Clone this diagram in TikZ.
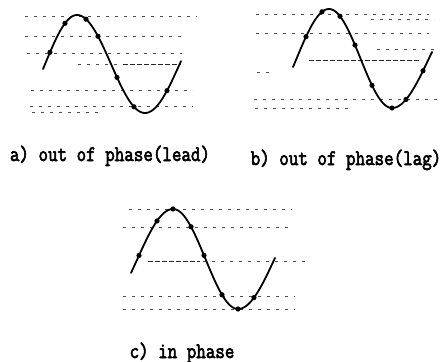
\documentclass[tikz,border=0pt]{standalone}
\usepackage{fontspec}
\usepackage{graphicx}
\newfontfamily\lblfont[FakeBold=3]{Latin Modern Mono}
\tikzset{
  declare function={
    wv(\xv,\cv,\av,\pv,\tv,\qa,\qb)=((\xv<\pv) ? (\cv-\av*cos((90/\qa)*(\xv-\pv))) : ((\xv<\tv) ? (\cv-\av*cos((180/(\tv-\pv))*(\xv-\pv))) : (\cv+\av*cos((90/\qb)*(\xv-\tv)))));
    wa(\x)=wv(\x,64,49,77,145,31.9,34.7);
    wb(\x)=wv(\x,58.5,49.5,329,392,32.4,36.9);
    wc(\x)=wv(\x,259,50,173,238,35.6,36.5);
  },
  wave/.style={line width=1.8pt, line cap=round, line join=round},
  gl/.style={line width=0.6pt, black!70, dash pattern=on 3pt off 6pt},
  gld/.style={line width=0.7pt, black!85, dash pattern=on 5pt off 2pt},
  pt/.style={fill=black},
  lbl/.style={font=\lblfont\fontsize{18.5}{20}\selectfont, inner sep=0pt, anchor=base}
}
\begin{document}
\begin{tikzpicture}[x=1pt,y=-1pt]
\useasboundingbox (0,0) rectangle (448,362);
% ---------- panel a ----------
\draw[gl] (25,16) -- (197,16);
\draw[gl] (25,36) -- (182,36);
\draw[gl] (27,53) -- (182,53);
\draw[gl] (78,64) -- (120,64);
\draw[gld] (123,64) -- (181,64);
\draw[gl] (31,90) -- (193,90);
\draw[gl] (30,106) -- (193,106);
\draw[gl] (32,112) -- (100,112);
\draw[wave] plot[domain=43:181, samples=120] (\x,{wa(\x)});
\foreach \p in {50,65,86,98,117,134,167}
  \fill[pt] (\p,{wa(\p)}) circle (2.6pt);
% ---------- panel b ----------
\draw[gl] (256,14) -- (429,14);
\draw[gl] (371,19) -- (434,19);
\draw[gl] (256,33) -- (429,33);
\draw[gl] (377,49) -- (434,49);
\draw[gld] (309,60) -- (421,60);
\draw[gl] (257,72) -- (271,72);
\draw[gl] (254,99) -- (437,99);
\draw[gl] (255,108) -- (349,108);
\draw[wave] plot[domain=293:432, samples=120] (\x,{wb(\x)});
\foreach \p in {306,322,340,355,372,392,406,423}
  \fill[pt] (\p,{wb(\p)}) circle (2.6pt);
% ---------- panel c ----------
\draw[gl] (129,209) -- (292,209);
\draw[gl] (123,227) -- (293,227);
\draw[gld] (148,261) -- (200,261);
\draw[gl] (203,261) -- (310,261);
\draw[gl] (123,296) -- (295,296);
\draw[gl] (123,309) -- (295,309);
\draw[wave] plot[domain=131:275, samples=120] (\x,{wc(\x)});
\foreach \p in {139,157,173,191,204,222,238,254}
  \fill[pt] (\p,{wc(\p)}) circle (2.6pt);
% ---------- labels ----------
\node[lbl] (la) at (110,161) {\scalebox{1}[1.2]{a) out of phase(lead)}};
\node[lbl] (lb) at (346,165) {\scalebox{1}[1.2]{b) out of phase(lag)}};
\node[lbl] (lc) at (182,358) {\scalebox{1}[1.2]{c) in phase}};
\end{tikzpicture}
\end{document}
